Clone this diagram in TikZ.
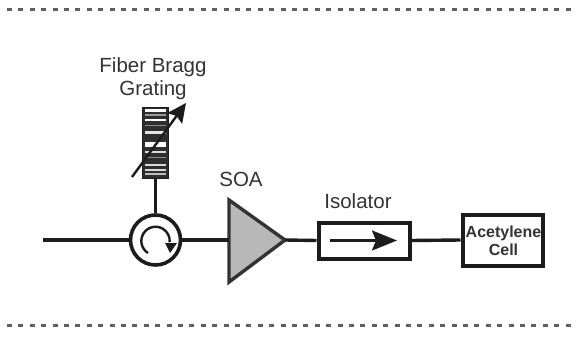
\documentclass[tikz,border=0pt]{standalone}
\usepackage{fontspec}
\setmainfont{Liberation Sans}
\usetikzlibrary{arrows.meta}
\definecolor{ink}{HTML}{1C1C1C}
\definecolor{txt}{HTML}{333333}
\definecolor{soagray}{HTML}{B8B8B8}
\tikzset{
  wire/.style={draw=ink,line width=3.4pt},
  lab/.style={text=txt,inner sep=0pt,font=\fontsize{20.5}{24}\selectfont,align=center},
  boxy/.style={draw=ink,fill=white,line width=4pt,inner sep=0pt,minimum width=#1},
  dots/.style={draw=ink!70,line width=3pt,dash pattern=on 5pt off 6.4pt},
}
\begin{document}
\begin{tikzpicture}[x=1pt,y=-1pt]
\useasboundingbox (0,0) rectangle (579,348);
\fill[white] (0,0) rectangle (579,348);
\draw[dots] (7,9.5) -- (572,9.5);
\draw[dots] (7,325) -- (572,325);
\coordinate (in) at (43,240);
\node[circle,draw=ink,fill=white,line width=3.6pt,minimum size=50pt,inner sep=0pt] (circ) at (155.5,240) {};
\node[draw=ink,fill=ink!92,line width=1pt,minimum width=26pt,minimum height=71pt,inner sep=0pt] (fbg) at (155.5,143) {};
\foreach \yy/\hh/\cc in {109/2.5/white,114/1.6/black!40,119/2/white,124.5/1.4/black!45,131/2.5/white!90!black,142/4.5/white,151/2.2/white!85!black,156.5/1.5/black!45,164/2.4/white!85!black,169/2/white!85!black,173/2/white!75!black}{
  \fill[\cc] (145,\yy) rectangle (166,\yy+\hh);
}
\draw[-{Stealth[length=19pt,width=18pt,inset=3pt]},draw=ink,line width=2.4pt] (132,177) -- (186,103);
\draw[wire] (fbg.south) -- (circ.north);
\draw[wire] (in) -- (circ.west);
\coordinate (soaw) at (229,240);
\draw[draw=ink!90,fill=soagray,line width=3.4pt,line join=miter] (229,200) -- (285,240) -- (229,282) -- cycle;
\coordinate (soae) at (285,240);
\node[boxy=91pt,minimum height=36pt] (iso) at (364,240.5) {};
\node[boxy=80pt,minimum height=51pt] (cell) at (502.5,240) {};
\draw[wire] (circ.east) -- (soaw);
\draw[wire] (soae) -- (iso.west);
\draw[wire] (iso.east) -- (cell.west);
\draw[-{Stealth[length=25pt,width=20pt,inset=4pt]},draw=ink,line width=2.6pt] (330,240.5) -- (397,240.5);
\draw[draw=ink,line width=2.4pt] (148,253) arc[start angle=238,end angle=-5,radius=14.2pt];
\fill[ink] (165,243) -- (177,243) -- (170,253) -- cycle;
\node[lab] (fbgt) at (153,79) {Fiber Bragg\\[-1pt]Grating};
\node[lab] (soat) at (241,179) {SOA};
\node[lab] (isot) at (358,201) {Isolator};
\node[text=txt,inner sep=0pt,align=center,font=\fontsize{16}{18}\selectfont\bfseries] (cellt) at (503.5,241) {Acetylene\\Cell};
\end{tikzpicture}
\end{document}
